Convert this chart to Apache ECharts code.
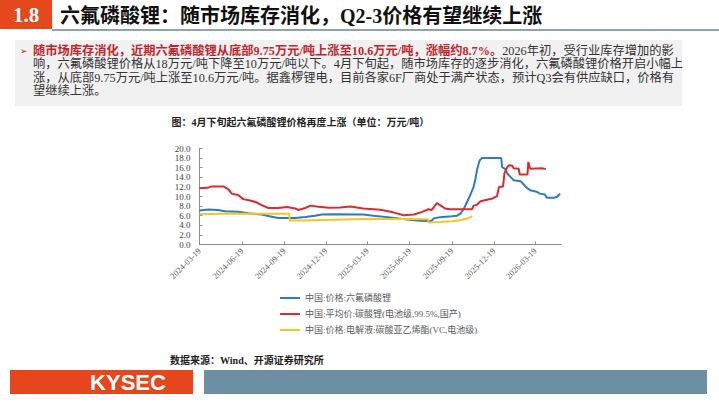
<!DOCTYPE html>
<html>
<head>
<meta charset="utf-8">
<script src="https://cdn.jsdelivr.net/npm/echarts@6/dist/echarts.min.js"></script>
<style>
html,body{margin:0;padding:0;background:#fff;}
#c{width:719px;height:405px;}
</style>
</head>
<body>
<div id="c"></div>
<script>
// ---------------- data ----------------
const seriesNames = ['中国:价格:六氟磷酸锂', '中国:平均价:碳酸锂(电池级,99.5%,国产)', '中国:价格:电解液:碳酸亚乙烯酯(VC,电池级)'];

const lipf6Dates = ['2024-03-19','2024-04-07','2024-04-28','2024-05-13','2024-06-11','2024-07-03','2024-08-01','2024-08-23','2024-09-06','2024-10-13','2024-11-04','2024-11-25','2024-12-10','2025-01-01','2025-03-10','2025-04-01','2025-05-07','2025-06-13','2025-07-12','2025-08-03','2025-08-06','2025-08-10','2025-08-24','2025-09-19','2025-09-30','2025-10-08','2025-10-15','2025-10-22','2025-10-29','2025-11-05','2025-11-09','2025-11-13','2025-11-18','2025-11-23','2026-01-04','2026-01-06','2026-01-13','2026-01-17','2026-01-24','2026-01-31','2026-02-15','2026-02-22','2026-03-01','2026-03-08','2026-03-22','2026-03-29','2026-04-09','2026-04-13','2026-04-28','2026-05-05','2026-05-08','2026-05-12'];
const lipf6Values = [7.1,7.3,7.2,6.95,6.8,6.5,6.25,5.8,5.5,5.5,5.75,6.0,6.25,6.3,6.25,6.0,5.65,5.2,4.95,4.85,5.0,5.4,5.7,5.9,6.0,6.5,7.5,8.9,10.4,12.0,13.7,15.8,17.5,18.0,18.0,16.1,15.7,14.8,14.1,13.4,13.2,12.5,11.8,11.3,11.0,10.6,10.4,9.75,9.75,9.9,10.2,10.6];

const li2co3Dates = ['2024-03-19','2024-04-06','2024-04-14','2024-05-10','2024-05-21','2024-05-28','2024-06-11','2024-06-22','2024-07-07','2024-07-21','2024-08-01','2024-08-16','2024-09-06','2024-09-25','2024-10-13','2024-10-20','2024-11-04','2024-11-15','2024-12-03','2024-12-25','2025-01-19','2025-02-10','2025-03-10','2025-04-16','2025-05-14','2025-06-06','2025-06-28','2025-07-16','2025-07-30','2025-08-06','2025-08-17','2025-08-24','2025-09-04','2025-09-15','2025-11-02','2025-11-04','2025-11-12','2025-11-20','2025-12-16','2025-12-26','2025-12-30','2026-01-08','2026-01-11','2026-01-17','2026-01-21','2026-01-28','2026-01-31','2026-02-11','2026-02-13','2026-03-02','2026-03-04','2026-03-08','2026-04-02','2026-04-11'];
const li2co3Values = [11.7,11.8,12.1,12.1,11.5,10.6,10.3,9.45,9.15,8.8,8.2,7.6,7.6,7.8,7.5,7.2,7.6,8.1,7.85,7.65,7.7,7.9,7.5,7.25,6.7,6.1,6.25,6.8,7.35,7.2,8.6,8.2,7.5,7.35,7.35,8.0,8.3,9.0,9.6,10.1,12.0,12.1,14.8,16.1,16.5,16.4,15.9,15.8,14.6,14.6,17.2,15.8,15.9,15.7];

const vcDates = ['2024-03-19','2024-05-01','2024-09-30','2024-10-01','2024-11-01','2025-01-01','2025-03-19','2025-06-19','2025-07-29','2025-07-30','2025-08-24','2025-09-19','2025-10-08','2025-10-22','2025-11-02'];
const vcValues = [6.3,6.4,6.4,5.0,5.0,5.15,5.3,5.3,5.25,4.6,4.7,4.85,5.1,5.4,5.9];

const xTickDates = ['2024-03-19','2024-06-19','2024-09-19','2024-12-19','2025-03-19','2025-06-19','2025-09-19','2025-12-19','2026-03-19'];
const xMinDate = '2024-03-19';
const xMaxDate = '2026-05-14';
const yMin = 0, yMax = 20, yStep = 2;

// ---------------- texts ----------------
const sectionNo = '1.8';
const pageTitle = '六氟磷酸锂：随市场库存消化，Q2-3价格有望继续上涨';
const para1Red = '随市场库存消化，近期六氟磷酸锂从底部9.75万元/吨上涨至10.6万元/吨，涨幅约8.7%。';
const para1Black = '2026年初，受行业库存增加的影';
const para2 = '响，六氟磷酸锂价格从18万元/吨下降至10万元/吨以下。4月下旬起，随市场库存的逐步消化，六氟磷酸锂价格开启小幅上';
const para3 = '涨，从底部9.75万元/吨上涨至10.6万元/吨。据鑫椤锂电，目前各家6F厂商处于满产状态，预计Q3会有供应缺口，价格有';
const para4 = '望继续上涨。';
const chartTitle = '图：4月下旬起六氟磷酸锂价格再度上涨（单位：万元/吨）';
const sourceText = '数据来源：Wind、开源证券研究所';
const logoText = 'KYSEC';

// ---------------- helpers ----------------
function ts(s){ const p = s.split('-').map(Number); return new Date(p[0], p[1]-1, p[2]).getTime(); }
function fmt(v){ const d = new Date(v); const m = d.getMonth()+1, dd = d.getDate(); return d.getFullYear()+'-'+(m<10?'0':'')+m+'-'+(dd<10?'0':'')+dd; }
function pairs(ds, vs){ return ds.map((d,i)=>[ts(d), vs[i]]); }

const SERIF = '"Liberation Serif","Times New Roman","Noto Sans CJK SC",serif';
const colors = ['#2e7cc0','#dc2a2e','#f3c623'];
const PF = '12.25px ' + SERIF;

const chart = echarts.init(document.getElementById('c'), null, {renderer:'svg', width:719, height:405});

const option = {
  animation: false,
  backgroundColor: '#ffffff',
  grid: { left: 199.5, top: 148.5, width: 361.5, height: 96, outerBoundsMode: 'none', containLabel: false },
  xAxis: {
    type: 'value',
    min: ts(xMinDate), max: ts(xMaxDate),
    axisLine: { show: true, lineStyle: { color: '#8c8c8c', width: 1 } },
    axisTick: { show: true, inside: true, length: 3, lineStyle: { color: '#8c8c8c' }, customValues: xTickDates.map(ts) },
    axisLabel: { show: true, rotate: 45, fontSize: 8.5, fontFamily: SERIF, color: '#595959', margin: 5,
      customValues: xTickDates.map(ts), formatter: function(v){ return fmt(v); }, hideOverlap: false },
    splitLine: { show: false }, minorTick: { show: false }
  },
  yAxis: {
    type: 'value', min: yMin, max: yMax, interval: yStep,
    axisLine: { show: true, lineStyle: { color: '#8c8c8c', width: 1 } },
    axisTick: { show: true, inside: true, length: 3, lineStyle: { color: '#8c8c8c' } },
    axisLabel: { fontSize: 9, fontFamily: SERIF, color: '#404040', margin: 9, formatter: v => v.toFixed(1) },
    splitLine: { show: false }
  },
  legend: {
    orient: 'vertical', left: 275, top: 287.5,
    icon: 'rect', itemWidth: 20, itemHeight: 2, itemGap: 5,
    textStyle: { fontSize: 9, fontFamily: SERIF, color: '#595959', lineHeight: 11 },
    data: seriesNames
  },
  series: [
    { name: seriesNames[0], type: 'line', showSymbol: false, symbol: 'none', data: pairs(lipf6Dates, lipf6Values), lineStyle: { width: 2, color: colors[0] }, itemStyle: { color: colors[0] } },
    { name: seriesNames[1], type: 'line', showSymbol: false, symbol: 'none', data: pairs(li2co3Dates, li2co3Values), lineStyle: { width: 2, color: colors[1] }, itemStyle: { color: colors[1] } },
    { name: seriesNames[2], type: 'line', showSymbol: false, symbol: 'none', data: pairs(vcDates, vcValues), lineStyle: { width: 2, color: colors[2] }, itemStyle: { color: colors[2] } }
  ],
  graphic: [
    { type: 'rect', shape: { x: 0, y: 0, width: 52, height: 29 }, style: { fill: '#e4481d' } },
    { type: 'text', x: 26, y: 15, style: { text: sectionNo, fill: '#ffffff', font: 'bold 21px "Liberation Serif",serif', align: 'center', verticalAlign: 'middle' } },
    { type: 'text', x: 60, y: 16, style: { text: pageTitle, fill: '#111111', font: 'bold 20px ' + SERIF, verticalAlign: 'middle' } },
    { type: 'line', shape: { x1: 52, y1: 30, x2: 719, y2: 30 }, style: { stroke: '#8fa2ae', lineWidth: 2 } },
    { type: 'rect', shape: { x: 15, y: 40, width: 667, height: 66 }, style: { fill: '#f1f1f1' } },
    { type: 'text', x: 20, y: 51, style: { text: '➢', fill: '#c0262d', font: '9px "DejaVu Sans"', verticalAlign: 'middle' } },
    { type: 'text', x: 33, y: 51, style: { text: '{r|' + para1Red + '}{k|' + para1Black + '}', verticalAlign: 'middle',
        rich: { r: { fill: '#c0262d', font: 'bold ' + PF }, k: { fill: '#333333', font: PF } } } },
    { type: 'text', x: 33, y: 64.3, style: { text: para2, fill: '#333333', font: PF, verticalAlign: 'middle' } },
    { type: 'text', x: 33, y: 77.6, style: { text: para3, fill: '#333333', font: PF, verticalAlign: 'middle' } },
    { type: 'text', x: 33, y: 90.9, style: { text: para4, fill: '#333333', font: PF, verticalAlign: 'middle' } },
    { type: 'text', x: 171.5, y: 122, style: { text: chartTitle, fill: '#222222', font: 'bold 10px ' + SERIF, verticalAlign: 'middle' } },
    { type: 'text', x: 170, y: 360, style: { text: sourceText, fill: '#222222', font: 'bold 10px ' + SERIF, verticalAlign: 'middle' } },
    { type: 'rect', shape: { x: 10, y: 370, width: 183, height: 24 }, style: { fill: '#e5461b' } },
    { type: 'rect', shape: { x: 204, y: 370, width: 503, height: 24 }, style: { fill: '#6d8fa3' } },
    { type: 'text', x: 128, y: 382.5, style: { text: logoText, fill: '#ffffff', font: 'bold 22px "Liberation Sans",Arial,sans-serif', align: 'center', verticalAlign: 'middle' } }
  ]
};
chart.setOption(option);
</script>
</body>
</html>
